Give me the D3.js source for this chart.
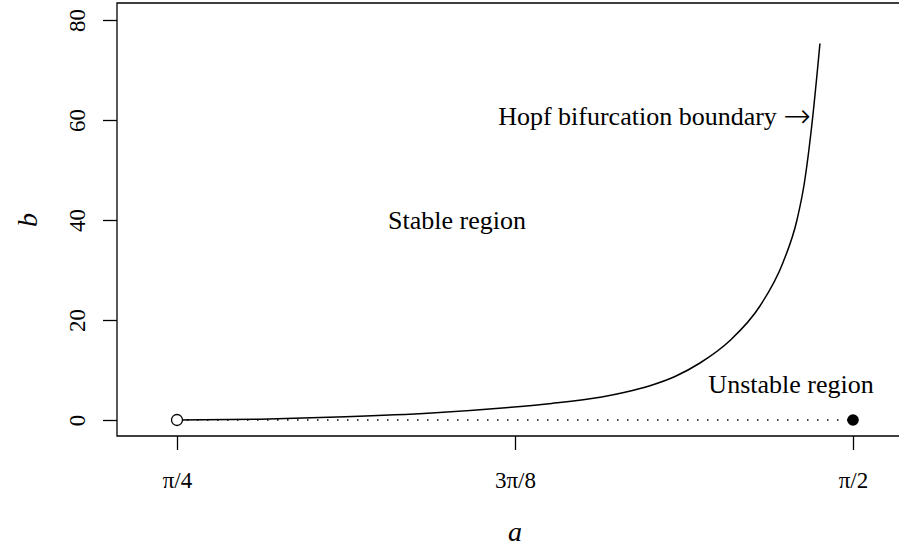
<!DOCTYPE html>
<html><head><meta charset="utf-8">
<script src="https://cdn.jsdelivr.net/npm/d3@7"></script>
<style>body{margin:0;background:#fff}svg{display:block}</style>
</head><body>
<svg id="c" width="899" height="549"></svg>
<script>
// Hopf bifurcation boundary b(a) (a in radians)
const curveA = [0.7854, 0.8818, 0.9814, 1.0813, 1.1708, 1.2207, 1.2788, 1.3059, 1.3349, 1.3640, 1.3930, 1.4279, 1.4627, 1.4895, 1.5057, 1.5139, 1.5231, 1.5324];
const curveB = [0, 0.16, 0.64, 1.4, 2.5, 3.3, 4.6, 5.55, 6.86, 8.7, 11.4, 15.9, 22.8, 31.5, 40.0, 47.0, 59.2, 75.3];
const xTicks = [Math.PI/4, 3*Math.PI/8, Math.PI/2];
const xTickLabels = ["π/4", "3π/8", "π/2"];
const yTicks = [0, 20, 40, 60, 80];
const openPoint = [Math.PI/4, 0];
const filledPoint = [Math.PI/2, 0];
const labels = [
  {text: "Stable region", a: 1.1108, b: 40},
  {text: "Unstable region", a: 1.4988, b: 7.2},
];
const hopfLabel = {text: "Hopf bifurcation boundary", arrow: "→", a: 1.5220, b: 60.7};

const svg = d3.select("#c");
const font = "'Liberation Serif','Times New Roman',serif";
const x = d3.scaleLinear().domain([Math.PI/4, Math.PI/2]).range([177, 853]);
const y = d3.scaleLinear().domain([0, 80]).range([420, 20]);
const box = {left: 117, top: 3, bottom: 436, right: 905};

// frame
svg.append("path")
  .attr("d", `M${box.right},${box.top}H${box.left}V${box.bottom}H${box.right}`)
  .attr("fill", "none").attr("stroke", "#000").attr("stroke-width", 1.3);

// x axis
const gx = svg.append("g").attr("transform", `translate(0,${box.bottom})`)
  .call(d3.axisBottom(x).tickValues(xTicks).tickFormat((d, i) => xTickLabels[i]).tickSize(14));
gx.select(".domain").remove();
gx.selectAll("line").attr("stroke", "#000").attr("stroke-width", 1.3);
gx.selectAll("text").attr("y", 52).attr("dy", 0)
  .style("font-family", font).style("font-size", "23px").attr("fill", "#000");

// y axis
const gy = svg.append("g").attr("transform", `translate(${box.left},0)`)
  .call(d3.axisLeft(y).tickValues(yTicks).tickSize(14));
gy.select(".domain").remove();
gy.selectAll("line").attr("stroke", "#000").attr("stroke-width", 1.3);
gy.selectAll("text").attr("transform", "rotate(-90)").attr("x", 0).attr("y", -32).attr("dy", 0)
  .attr("text-anchor", "middle")
  .style("font-family", font).style("font-size", "23px").attr("fill", "#000");

// axis titles
svg.append("text").attr("x", x(3*Math.PI/8)).attr("y", 541).attr("text-anchor", "middle")
  .style("font-family", font).style("font-size", "28px").style("font-style", "italic").text("a");
svg.append("text").attr("transform", `translate(37,${y(40)}) rotate(-90)`).attr("text-anchor", "middle")
  .style("font-family", font).style("font-size", "28px").style("font-style", "italic").text("b");

// dotted baseline
svg.append("line").attr("x1", x(openPoint[0])).attr("x2", x(filledPoint[0]))
  .attr("y1", y(0)).attr("y2", y(0))
  .attr("stroke", "#000").attr("stroke-width", 1.3).attr("stroke-dasharray", "1.5,8.5");

// curve
const pts = curveA.map((a, i) => [a, curveB[i]]);
svg.append("path").datum(pts)
  .attr("d", d3.line().x(d => x(d[0])).y(d => y(d[1])).curve(d3.curveMonotoneX))
  .attr("fill", "none").attr("stroke", "#000").attr("stroke-width", 1.5);

// points
svg.append("circle").attr("cx", x(openPoint[0])).attr("cy", y(openPoint[1])).attr("r", 5.5)
  .attr("fill", "#fff").attr("stroke", "#000").attr("stroke-width", 1.3);
svg.append("circle").attr("cx", x(filledPoint[0])).attr("cy", y(filledPoint[1])).attr("r", 5.8)
  .attr("fill", "#000");

// labels
labels.forEach(l => {
  svg.append("text").attr("x", x(l.a)).attr("y", y(l.b)).attr("dy", "0.33em")
    .attr("text-anchor", "middle").style("font-family", font).style("font-size", "26px").text(l.text);
});
const ht = svg.append("text").attr("x", x(hopfLabel.a)).attr("y", y(hopfLabel.b)).attr("dy", "0.33em")
  .attr("text-anchor", "end").style("font-family", font).style("font-size", "26px");
ht.append("tspan").text(hopfLabel.text + " ");
ht.append("tspan").attr("dy", 2).style("font-family", "'DejaVu Sans',sans-serif").style("font-size", "33px")
  .style("font-weight", "200").text(hopfLabel.arrow);
</script>
</body></html>
